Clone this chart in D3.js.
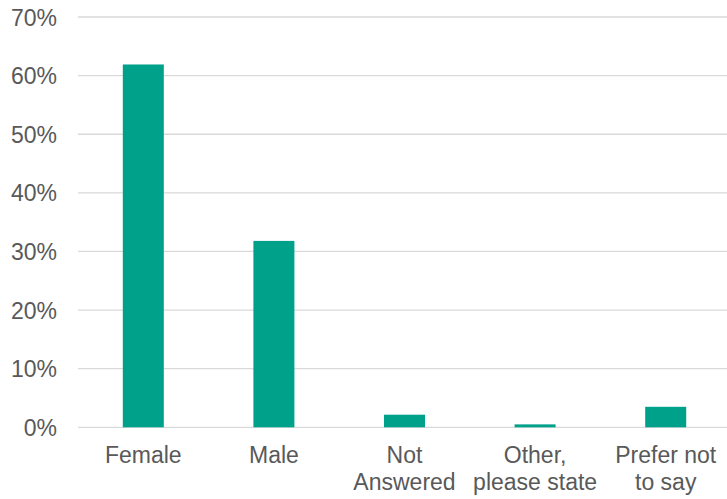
<!DOCTYPE html>
<html>
<head>
<meta charset="utf-8">
<script src="https://cdn.jsdelivr.net/npm/d3@7"></script>
<style>
    body { margin: 0; background: #fff; }
    text { font-family: "Liberation Sans", Arial, sans-serif; fill: #595959; }
</style>
</head>
<body>
<svg id="chart"></svg>
<script>
//data
var categories = ['Female', 'Male', 'Not Answered', 'Other, please state', 'Prefer not to say'];
var labelLines = [['Female'], ['Male'], ['Not', 'Answered'], ['Other,', 'please state'], ['Prefer not', 'to say']];
var values = [0.619, 0.318, 0.0215, 0.005, 0.035];
var yTicks = [0, 0.1, 0.2, 0.3, 0.4, 0.5, 0.6, 0.7];

//chart parameters
var svg = d3.select('#chart')
    .attr('width', 727)
    .attr('height', 499);

var margin = {top: 17, right: -4, bottom: 72, left: 78},
    width = +svg.attr('width') - margin.left - margin.right,
    height = +svg.attr('height') - margin.top - margin.bottom;

//scales
var xScale = d3.scaleBand()
    .domain(categories)
    .range([0, width])
    .paddingInner(0.686)
    .paddingOuter(0.343);

var yScale = d3.scaleLinear()
    .domain([0, 0.7])
    .range([height + 0.3, 0]);

var canvas = svg.append('g')
    .attr('transform', 'translate(' + margin.left + ',' + margin.top + ')');

//gridlines
canvas.append('g')
    .attr('class', 'grid')
    .selectAll('line')
    .data(yTicks)
    .enter().append('line')
        .attr('x1', 0)
        .attr('x2', width)
        .attr('y1', d => yScale(d))
        .attr('y2', d => yScale(d))
        .style('stroke', '#d9d9d9')
        .style('stroke-width', 1.3);

//y axis labels
var yAxis = canvas.append('g')
    .call(d3.axisLeft(yScale)
        .tickValues(yTicks)
        .tickFormat(d3.format('.0%'))
        .tickSize(0)
        .tickPadding(21));
yAxis.select('.domain').remove();
yAxis.selectAll('text')
    .attr('fill', '#595959')
    .style('font-size', '23px')
    .attr('dy', '0.35em');

//bars
canvas.selectAll('rect.bar')
    .data(values)
    .enter().append('rect')
        .attr('class', 'bar')
        .attr('x', (d, i) => xScale(categories[i]))
        .attr('width', xScale.bandwidth())
        .attr('y', d => yScale(d))
        .attr('height', d => yScale(0) - yScale(d))
        .style('fill', '#00A18B');

//x axis labels
var xLabels = canvas.append('g')
    .selectAll('text')
    .data(categories)
    .enter().append('text')
        .attr('text-anchor', 'middle')
        .attr('transform', d => 'translate(' + (xScale(d) + xScale.bandwidth() / 2) + ',' + (height + 36) + ')')
        .style('font-size', '23px');

xLabels.selectAll('tspan')
    .data((d, i) => labelLines[i])
    .enter().append('tspan')
        .attr('x', 0)
        .attr('dy', (d, i) => i === 0 ? 0 : 27)
        .text(d => d);
</script>
</body>
</html>
